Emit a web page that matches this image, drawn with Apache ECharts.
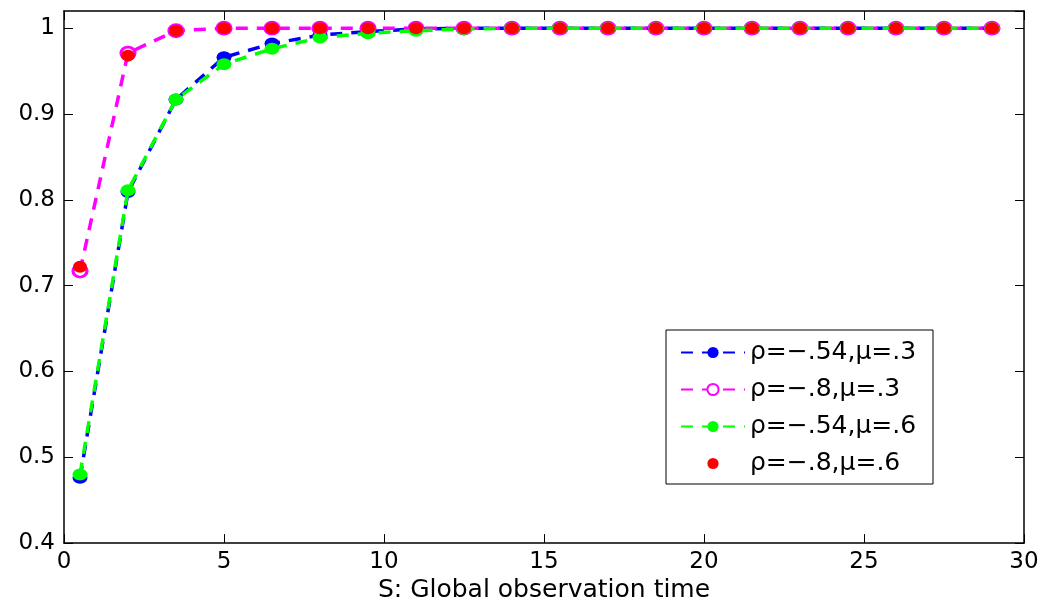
<!DOCTYPE html>
<html>
<head>
<meta charset="utf-8">
<script src="https://cdn.jsdelivr.net/npm/echarts@6/dist/echarts.min.js"></script>
<style>html,body{margin:0;padding:0;background:#fff;}#c{width:1049px;height:608px;}</style>
</head>
<body>
<div id="c"></div>
<script>
const xValues = [0.5, 2, 3.5, 5, 6.5, 8, 9.5, 11, 12.5, 14, 15.5, 17, 18.5, 20, 21.5, 23, 24.5, 26, 27.5, 29];
const blueVals = [0.476, 0.809, 0.917, 0.966, 0.982, 0.992, 0.996, 0.999, 1, 1, 1, 1, 1, 1, 1, 1, 1, 1, 1, 1];
const magentaVals = [0.717, 0.971, 0.997, 1, 1, 1, 1, 1, 1, 1, 1, 1, 1, 1, 1, 1, 1, 1, 1, 1];
const greenVals = [0.480, 0.811, 0.917, 0.958, 0.976, 0.989, 0.994, 0.997, 0.999, 1, 1, 1, 1, 1, 1, 1, 1, 1, 1, 1];
const redVals = [0.722, 0.968, 0.997, 1, 1, 1, 1, 1, 1, 1, 1, 1, 1, 1, 1, 1, 1, 1, 1, 1];
const seriesNames = ['ρ=−.54,μ=.3', 'ρ=−.8,μ=.3', 'ρ=−.54,μ=.6', 'ρ=−.8,μ=.6'];
const xTicks = {min: 0, max: 30, interval: 5};
const yTicks = {min: 0.4, max: 1.02, interval: 0.1};
const xTitle = 'S: Global observation time';

const pair = v => xValues.map((x, i) => [x, v[i]]);
const FONT = 'DejaVu Sans';
const chart = echarts.init(document.getElementById('c'));
const axisCommon = {
  axisLine: {show: true, onZero: false, lineStyle: {color: '#000', width: 1.5}},
  axisTick: {show: true, inside: true, length: 9, lineStyle: {color: '#000', width: 1}},
  splitLine: {show: false}
};
const DASH = [12, 9];
chart.setOption({
  animation: false,
  grid: {left: 64, right: 25, top: 11, bottom: 59},
  xAxis: [
    Object.assign({type: 'value', min: xTicks.min, max: xTicks.max, interval: xTicks.interval, position: 'bottom',
      name: xTitle, nameLocation: 'middle', nameGap: 27,
      nameTextStyle: {fontFamily: FONT, fontSize: 25, color: '#000'},
      axisLabel: {fontFamily: FONT, fontSize: 23, color: '#000', margin: 7}}, axisCommon),
    Object.assign({type: 'value', min: xTicks.min, max: xTicks.max, interval: xTicks.interval, position: 'top',
      axisLabel: {show: false}}, axisCommon)
  ],
  yAxis: [
    Object.assign({type: 'value', min: yTicks.min, max: yTicks.max, interval: yTicks.interval, position: 'left',
      axisLabel: {fontFamily: FONT, fontSize: 23, color: '#000', margin: 9, showMaxLabel: false,
        formatter: v => (Math.abs(v - 1.02) < 1e-6 ? '' : String(+v.toFixed(2)))}}, axisCommon),
    Object.assign({type: 'value', min: yTicks.min, max: yTicks.max, interval: yTicks.interval, position: 'right',
      axisLabel: {show: false}}, axisCommon)
  ],
  legend: {
    orient: 'vertical', left: 666, top: 330,
    backgroundColor: '#fff', borderColor: '#000', borderWidth: 1,
    padding: [10, 7, 8, 14],
    itemWidth: 64, itemHeight: 14, itemGap: 12,
    textStyle: {fontFamily: FONT, fontSize: 25, color: '#000', lineHeight: 24, width: 176},
    data: seriesNames
  },
  series: [
    {name: seriesNames[0], type: 'line', data: pair(blueVals), symbol: 'circle', symbolSize: [15, 12],
      itemStyle: {color: '#0000ff'}, lineStyle: {color: '#0000ff', width: 3.5, type: DASH}, z: 2},
    {name: seriesNames[1], type: 'line', data: pair(magentaVals), symbol: 'circle', symbolSize: [14, 12],
      itemStyle: {color: '#ffffff', borderColor: '#ff00ff', borderWidth: 3}, lineStyle: {color: '#ff00ff', width: 3.5, type: DASH}, z: 3},
    {name: seriesNames[2], type: 'line', data: pair(greenVals), symbol: 'circle', symbolSize: [15, 12],
      itemStyle: {color: '#00ff00'}, lineStyle: {color: '#00ff00', width: 3.5, type: DASH}, z: 4},
    {name: seriesNames[3], type: 'line', data: pair(redVals), symbol: 'circle', symbolSize: [14, 12],
      itemStyle: {color: '#ff0000'}, lineStyle: {width: 0, opacity: 0}, z: 5}
  ]
});
</script>
</body>
</html>
